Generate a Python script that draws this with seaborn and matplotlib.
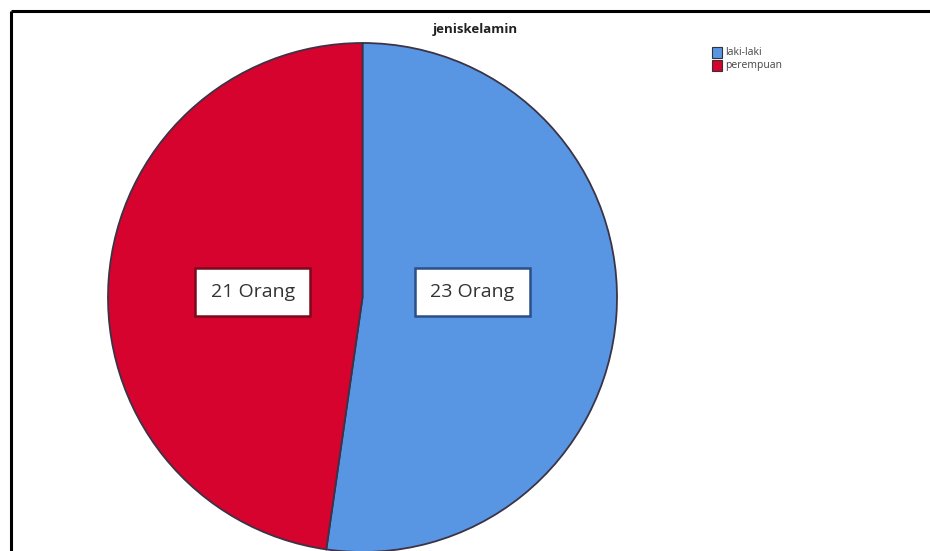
import matplotlib
matplotlib.use("Agg")
import matplotlib.pyplot as plt
import seaborn as sns
import numpy as np
from matplotlib.patches import Rectangle

sns.set_theme(style="white")
plt.rcParams['font.family'] = ['Open Sans', 'DejaVu Sans']

# Data
categories = ["laki-laki", "perempuan"]
counts = [23, 21]
value_labels = ["23 Orang", "21 Orang"]
title = "jeniskelamin"

colors = ["#5896E4", "#D5032D"]
box_edges = ["#2B4F86", "#7A0A1C"]

W, H = 930, 551
fig = plt.figure(figsize=(W / 100, H / 100), dpi=100)
ax = fig.add_axes([0, 0, 1, 1])

cx, cy, r = 362.5, 297.5, 254.5
wedges, _ = ax.pie(counts, colors=colors, startangle=90, counterclock=False,
                   center=(cx, -cy), radius=r,
                   wedgeprops=dict(edgecolor="#3B3346", linewidth=1.3))

# value boxes inside each slice
label_angles = [3, 177]
for lab, ang, ec in zip(value_labels, label_angles, box_edges):
    t = np.deg2rad(ang)
    x = cx + 0.432 * r * np.cos(t)
    y = -cy + 0.432 * r * np.sin(t)
    ax.text(x, y, lab, ha="center", va="center", fontsize=14, color="#333333",
            bbox=dict(boxstyle="square,pad=0.78", facecolor="white",
                      edgecolor=ec, linewidth=1.8))

ax.set_xlim(0, W)
ax.set_ylim(-H, 0)
ax.set_aspect("equal")
ax.axis("off")

# chart title
ax.text(475, -30, title, ha="center", va="center", fontsize=9.5,
        fontweight="bold", color="#222222")

# legend
for i, (cat, col) in enumerate(zip(categories, colors)):
    y0 = -58 - i * 13
    ax.add_patch(Rectangle((712, y0), 10, 11, facecolor=col,
                           edgecolor="#333333", linewidth=0.8))
    ax.text(725, y0 + 5.5, cat, ha="left", va="center", fontsize=7.5,
            color="#444444")

# outer frame (top and left edges)
ax.plot([11, W], [-11, -11], color="black", linewidth=2.2, solid_capstyle="butt")
ax.plot([11, 11], [-11, -H], color="black", linewidth=2.2, solid_capstyle="butt")

fig.savefig("out.png", dpi=100)
